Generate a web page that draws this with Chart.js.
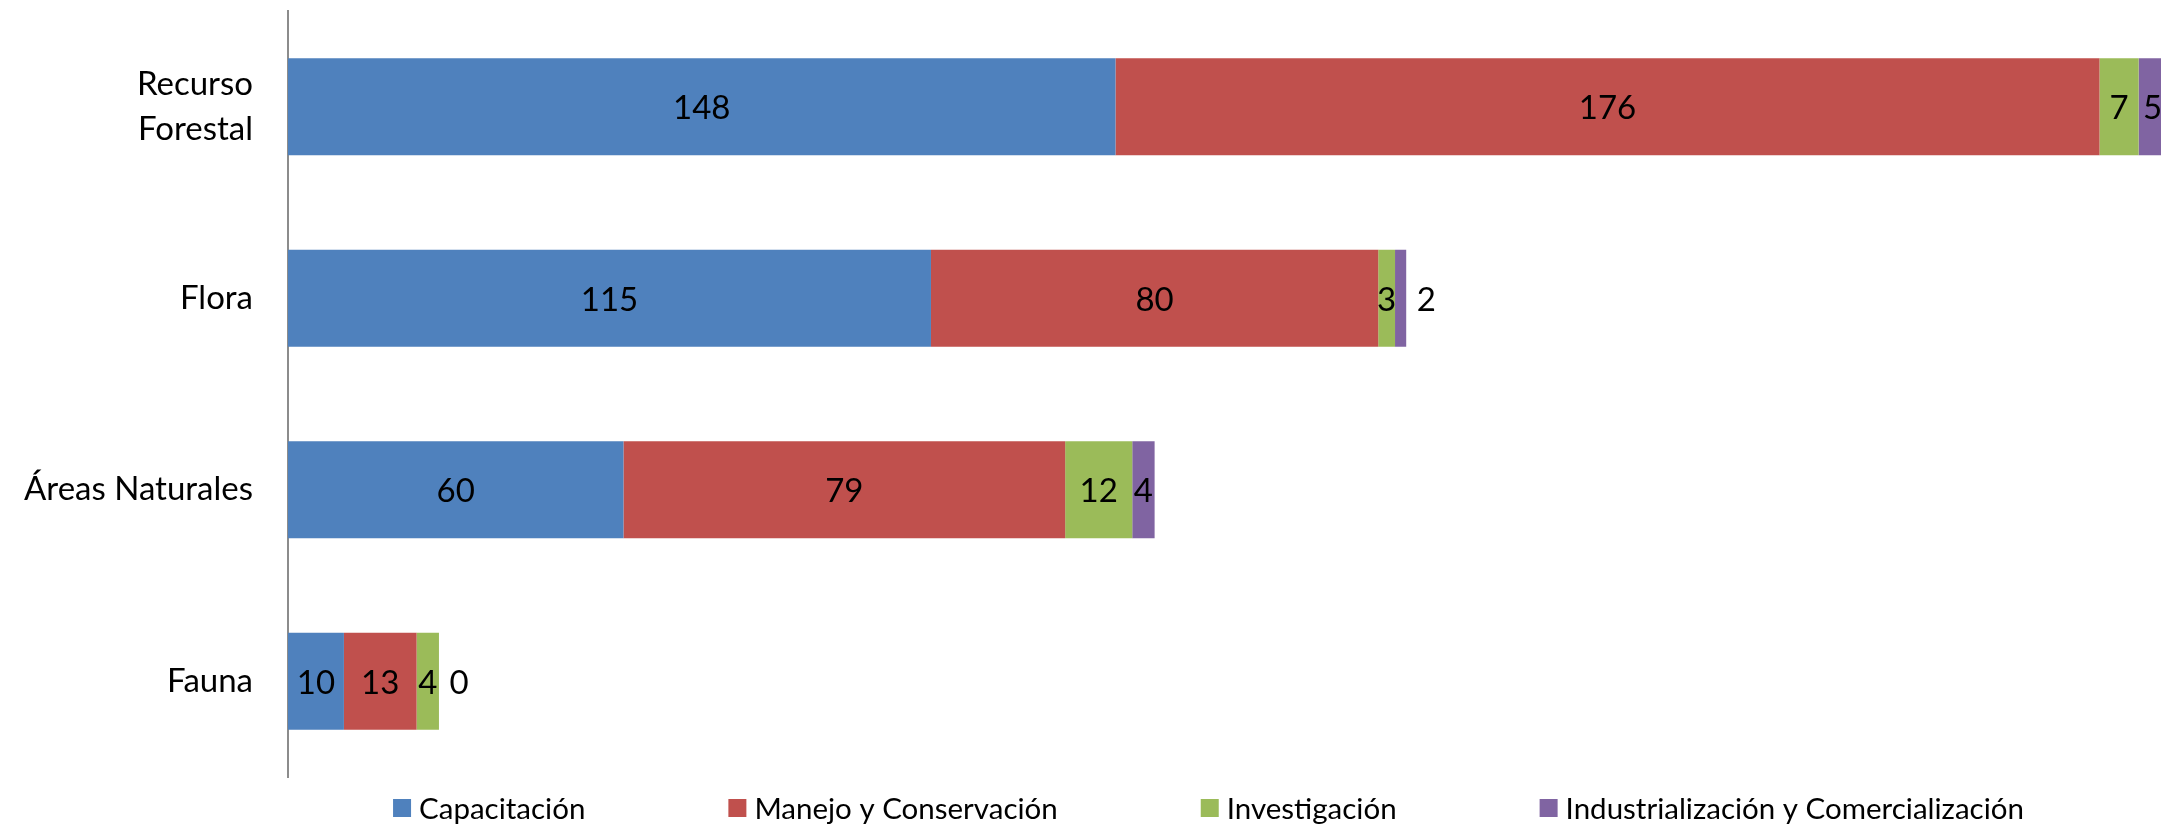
<!DOCTYPE html>
<html>
<head>
<meta charset="utf-8">
<script src="https://cdn.jsdelivr.net/npm/chart.js@4"></script>
<style>
    body { margin: 0; background: #ffffff; }
    #rahmen { width: 2161px; height: 824px; }
</style>
</head>
<body>
<div id="rahmen"><canvas id="grafico"></canvas></div>
<script>
var kategorien = [['Recurso', 'Forestal'], 'Flora', 'Áreas Naturales', 'Fauna'];
var serien = ['Capacitación', 'Manejo y Conservación', 'Investigación', 'Industrialización y Comercialización'];
var capacitacion = [148, 115, 60, 10];
var manejo = [176, 80, 79, 13];
var investigacion = [7, 3, 12, 4];
var industrializacion = [5, 2, 4, 0];
var farben = ['#4F81BD', '#C0504D', '#9BBB59', '#8064A2'];

var schrift = 'Lato, "Open Sans", sans-serif';

// zahlen in die balken schreiben, sehr schmale am ende daneben
var wertePlugin = {
    id: 'werte',
    afterDatasetsDraw: function(chart){
        var ctx = chart.ctx;
        ctx.save();
        ctx.font = '33px ' + schrift;
        ctx.fillStyle = '#000000';
        ctx.textBaseline = 'middle';
        ctx.textAlign = 'center';
        var letzte = chart.data.datasets.length - 1;
        chart.data.datasets.forEach(function(ds, d){
            var meta = chart.getDatasetMeta(d);
            meta.data.forEach(function(bar, i){
                var wert = ds.data[i];
                var breite = Math.abs(bar.x - bar.base);
                var x = (bar.x + bar.base) / 2;
                if (d === letzte && breite < 15){
                    x = bar.x + 20;
                }
                ctx.fillText(String(wert), x, bar.y + 2);
            });
        });
        ctx.restore();
    }
};

// legende unten selber zeichnen
var legendePlugin = {
    id: 'legende',
    afterDraw: function(chart){
        var ctx = chart.ctx;
        var area = chart.chartArea;
        ctx.save();
        ctx.font = '29.5px ' + schrift;
        ctx.textBaseline = 'middle';
        ctx.textAlign = 'left';
        var kasten = 18;
        var abstand = 8;
        var luecke = 143;
        var breiten = serien.map(function(s){ return kasten + abstand + ctx.measureText(s).width; });
        var gesamt = breiten.reduce(function(a, b){ return a + b; }, 0) + luecke * (serien.length - 1);
        var x = (area.left + area.right) / 2 - gesamt / 2 - 16;
        var y = 808;
        for (var i = 0; i < serien.length; i++){
            ctx.fillStyle = farben[i];
            ctx.fillRect(x, y - kasten / 2, kasten, kasten);
            ctx.fillStyle = '#000000';
            ctx.fillText(serien[i], x + kasten + abstand, y + 1);
            x = x + breiten[i] + luecke;
        }
        ctx.restore();
    }
};

function datensatz(name, werte, farbe){
    return {
        label: name,
        data: werte,
        backgroundColor: farbe,
        borderWidth: 0,
        barPercentage: 0.507,
        categoryPercentage: 1.0
    };
}

new Chart(document.getElementById('grafico'), {
    type: 'bar',
    data: {
        labels: kategorien,
        datasets: [
            datensatz(serien[0], capacitacion, farben[0]),
            datensatz(serien[1], manejo, farben[1]),
            datensatz(serien[2], investigacion, farben[2]),
            datensatz(serien[3], industrializacion, farben[3])
        ]
    },
    options: {
        indexAxis: 'y',
        responsive: true,
        maintainAspectRatio: false,
        animation: false,
        layout: { padding: { top: 11, bottom: 47, left: 0, right: 0 } },
        plugins: {
            legend: { display: false },
            tooltip: { enabled: false }
        },
        scales: {
            x: {
                stacked: true,
                display: false,
                min: 0,
                max: 335
            },
            y: {
                stacked: true,
                grid: { display: false, drawTicks: false },
                border: { display: true, color: '#8C8C8C', width: 2 },
                ticks: {
                    color: '#000000',
                    padding: 35,
                    font: { family: schrift, size: 33, lineHeight: 1.37 }
                },
                afterFit: function(scale){
                    scale.width = 288;
                    scale.paddingTop = 0;
                    scale.paddingBottom = 0;
                }
            }
        }
    },
    plugins: [wertePlugin, legendePlugin]
});
</script>
</body>
</html>
